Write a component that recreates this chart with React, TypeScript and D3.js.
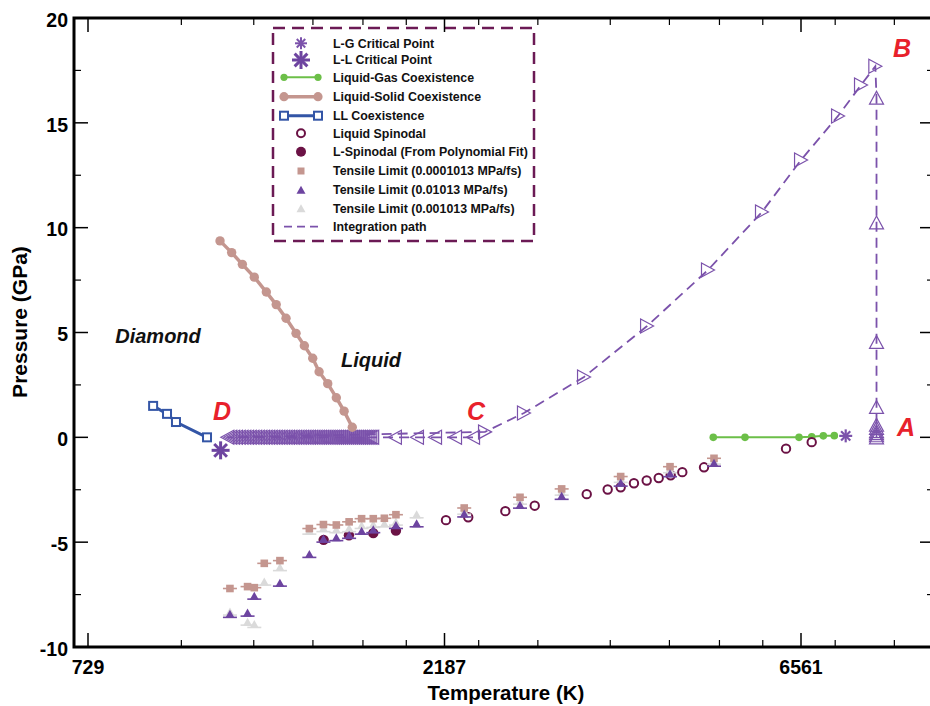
import React from 'react';
import * as d3 from 'd3';

// ---- data (temperature in K, pressure in GPa) ----
const lgT = [5007, 5521, 6521, 6781, 7028, 7270];
const lgP = [0, 0, 0, 0.03, 0.07, 0.08];
const lgCritical = { T: 7530, P: 0.07 };

const llT = [891, 930, 956, 1052];
const llP = [1.5, 1.12, 0.73, 0];
const llCritical = { T: 1097, P: -0.62 };

const lsT = [1095, 1135, 1173, 1217, 1263, 1302, 1342, 1384, 1420, 1457, 1486, 1526, 1567, 1605, 1646];
const lsP = [9.37, 8.81, 8.25, 7.64, 6.93, 6.33, 5.68, 4.96, 4.37, 3.77, 3.13, 2.56, 1.89, 1.25, 0.48];

const spinT = [2197, 2353, 2638, 2888, 3390, 3616, 3764, 3921, 4078, 4232, 4391, 4551, 4866, 6265, 6781];
const spinP = [-3.95, -3.81, -3.52, -3.26, -2.71, -2.49, -2.38, -2.19, -2.06, -1.94, -1.81, -1.66, -1.43, -0.54, -0.23];

const spinFitT = [1507, 1629, 1756, 1883];
const spinFitP = [-4.89, -4.67, -4.57, -4.45];

const tensileSlowT = [1129, 1192, 1217, 1255, 1317, 1442, 1506, 1567, 1630, 1694, 1756, 1817, 1883, 2324, 2760, 3138, 3764, 4382, 5018];
const tensileSlowP = [-7.21, -7.12, -7.17, -6.01, -5.88, -4.35, -4.16, -4.18, -4.03, -3.88, -3.88, -3.86, -3.69, -3.37, -2.86, -2.46, -1.87, -1.4, -1.0];

const tensileFastT = [1129, 1192, 1217, 1317, 1442, 1506, 1567, 1630, 1694, 1756, 1883, 2007, 2324, 2760, 3138, 3764, 4382, 5018];
const tensileFastP = [-8.42, -8.36, -7.55, -6.93, -5.56, -4.83, -4.76, -4.65, -4.45, -4.38, -4.18, -4.1, -3.63, -3.21, -2.79, -2.16, -1.71, -1.21];

const tensileMidT = [1129, 1192, 1217, 1255, 1317, 1442, 1506, 1567, 1630, 1694, 1756, 1817, 1883, 2007, 2324, 2760, 3138, 3764, 4382, 5018];
const tensileMidP = [-8.31, -8.79, -8.9, -6.88, -6.19, -4.45, -4.33, -4.38, -4.33, -4.18, -4.13, -4.1, -4.02, -3.67, -3.5, -3.02, -2.59, -1.98, -1.52, -1.11];

// integration path: isobar C -> D (left-pointing markers)
const isobarT = [
  1120, 1130, 1140, 1150, 1160, 1170, 1180, 1190, 1200, 1210, 1220, 1230, 1240, 1250, 1260, 1270,
  1280, 1290, 1300, 1310, 1320, 1330, 1340, 1350, 1360, 1370, 1380, 1390, 1400, 1410, 1420, 1430,
  1440, 1450, 1460, 1470, 1480, 1490, 1500, 1510, 1520, 1530, 1540, 1550, 1560, 1570, 1580, 1590,
  1600, 1610, 1620, 1630, 1640, 1650, 1660, 1670, 1680, 1690, 1700, 1710, 1720, 1730, 1740, 1750,
  1877, 2009, 2124, 2259, 2388,
];
const isobarP = isobarT.map(() => 0);
// B -> C leg (right-pointing markers)
const diagT = [2478, 2794, 3362, 4083, 4926, 5818, 6562, 7355, 7894, 8250];
const diagP = [0.26, 1.16, 2.88, 5.31, 7.98, 10.75, 13.23, 15.33, 16.8, 17.7];
// A -> B isotherm (up-pointing markers)
const isothermT = 8280;
const isothermP = [16.2, 10.25, 4.55, 1.45, 0.6, 0.45, 0.3, 0.2, 0.1, 0];

const xMajor = [729, 2187, 6561];
const xMinor = [972, 1215, 1458, 1701, 1944, 2430, 2916, 3645, 4374, 5103, 5832, 7290, 8748];
const yMajor = [-10, -5, 0, 5, 10, 15, 20];
const yMinor = [-7.5, -2.5, 2.5, 7.5, 12.5, 17.5];

// ---- styling ----
const PURPLE = '#7b52ab';
const PURPLE_DARK = '#6d44a0';
const PINK = '#c4968f';
const GRAY = '#dadada';
const MAROON = '#6b1245';
const GREEN = '#6cbf48';
const BLUE = '#3355a6';
const RED = '#e8212b';
const FONT = '"Liberation Sans", Arial, Helvetica, sans-serif';

const W = 930;
const H = 706;
const left = 74;
const right = 934;
const top = 18;
const bottom = 647;

const x = d3.scaleLog().domain([729, 6561]).range([88, 801]);
const y = d3.scaleLinear().domain([-10, 20]).range([647, 18]);

const zip = (ts: number[], ps: number[]) => ts.map((t, i) => [t, ps[i]] as [number, number]);
const line = d3
  .line<[number, number]>()
  .x((d) => x(d[0]))
  .y((d) => y(d[1]));

function Asterisk({ cx, cy, r, sw, color }: { cx: number; cy: number; r: number; sw: number; color: string }) {
  return (
    <g stroke={color} strokeWidth={sw} strokeLinecap="butt">
      {[0, 45, 90, 135].map((a) => {
        const rad = (a * Math.PI) / 180;
        const dx = Math.cos(rad) * r;
        const dy = Math.sin(rad) * r;
        return <line key={a} x1={cx - dx} y1={cy - dy} x2={cx + dx} y2={cy + dy} />;
      })}
    </g>
  );
}

function tri(cx: number, cy: number, dir: 'left' | 'right' | 'up', w: number, h: number) {
  if (dir === 'left') return `M${cx - w / 2},${cy}L${cx + w / 2},${cy - h / 2}L${cx + w / 2},${cy + h / 2}Z`;
  if (dir === 'right') return `M${cx + w / 2},${cy}L${cx - w / 2},${cy - h / 2}L${cx - w / 2},${cy + h / 2}Z`;
  return `M${cx},${cy - h / 2}L${cx - w / 2},${cy + h / 2}L${cx + w / 2},${cy + h / 2}Z`;
}

function TensileTri({ cx, cy, color }: { cx: number; cy: number; color: string }) {
  return (
    <g>
      <line x1={cx - 7} x2={cx + 7} y1={cy + 3.5} y2={cy + 3.5} stroke={color} strokeWidth={1.6} />
      <path d={tri(cx, cy, 'up', 9, 8)} fill={color} />
    </g>
  );
}

function TensileSq({ cx, cy, color }: { cx: number; cy: number; color: string }) {
  return (
    <g>
      <line x1={cx - 7} x2={cx + 7} y1={cy} y2={cy} stroke={color} strokeWidth={1.6} />
      <rect x={cx - 3.8} y={cy - 3.8} width={7.6} height={7.6} fill={color} />
    </g>
  );
}

function OpenSquare({ cx, cy }: { cx: number; cy: number }) {
  return <rect x={cx - 4} y={cy - 4} width={8} height={8} fill="white" stroke={BLUE} strokeWidth={2} />;
}

const legendRows = [
  'L-G Critical Point',
  'L-L Critical Point',
  'Liquid-Gas Coexistence',
  'Liquid-Solid Coexistence',
  'LL Coexistence',
  'Liquid Spinodal',
  'L-Spinodal (From Polynomial Fit)',
  'Tensile Limit (0.0001013 MPa/fs)',
  'Tensile Limit (0.01013 MPa/fs)',
  'Tensile Limit (0.001013 MPa/fs)',
  'Integration path',
];
const legendY = [43.3, 60, 77.3, 96.7, 115.7, 133.3, 151.7, 171, 189.7, 208.3, 226.7];

function Legend() {
  const sx = 301;
  const l0 = 284;
  const l1 = 318;
  const sym = (i: number, cy: number) => {
    switch (i) {
      case 0:
        return <Asterisk cx={sx} cy={cy} r={6} sw={2} color={PURPLE} />;
      case 1:
        return <Asterisk cx={sx} cy={cy} r={9} sw={3} color={PURPLE_DARK} />;
      case 2:
        return (
          <g>
            <line x1={l0} x2={l1} y1={cy} y2={cy} stroke={GREEN} strokeWidth={2} />
            <circle cx={l0} cy={cy} r={3.6} fill={GREEN} />
            <circle cx={l1} cy={cy} r={3.6} fill={GREEN} />
          </g>
        );
      case 3:
        return (
          <g>
            <line x1={l0} x2={l1} y1={cy} y2={cy} stroke={PINK} strokeWidth={3.5} />
            <circle cx={l0} cy={cy} r={4.6} fill={PINK} />
            <circle cx={l1} cy={cy} r={4.6} fill={PINK} />
          </g>
        );
      case 4:
        return (
          <g>
            <line x1={l0} x2={l1} y1={cy} y2={cy} stroke={BLUE} strokeWidth={3} />
            <OpenSquare cx={l0} cy={cy} />
            <OpenSquare cx={l1} cy={cy} />
          </g>
        );
      case 5:
        return <circle cx={sx} cy={cy} r={4} fill="white" stroke={MAROON} strokeWidth={2} />;
      case 6:
        return <circle cx={sx} cy={cy} r={5} fill={MAROON} />;
      case 7:
        return <rect x={sx - 3.5} y={cy - 3.5} width={7} height={7} fill={PINK} />;
      case 8:
        return <path d={tri(sx, cy, 'up', 9, 8)} fill={PURPLE_DARK} />;
      case 9:
        return <path d={tri(sx, cy, 'up', 9, 8)} fill={GRAY} />;
      default:
        return <line x1={l0} x2={l1} y1={cy} y2={cy} stroke={PURPLE} strokeWidth={1.8} strokeDasharray="8,5" />;
    }
  };
  return (
    <g>
      <rect x={273} y={28} width={261} height={213} fill="white" stroke="#6b1a55" strokeWidth={2.5} strokeDasharray="12,7" />
      {legendRows.map((label, i) => (
        <g key={label}>
          {sym(i, legendY[i])}
          <text x={333} y={legendY[i]} dy="0.35em" fontFamily={FONT} fontWeight="bold" fontSize={12.4} fill="#111">
            {label}
          </text>
        </g>
      ))}
    </g>
  );
}

export default function App() {
  const lsPts = zip(lsT, lsP);
  const lgPts = zip(lgT, lgP);
  const llPts = zip(llT, llP);
  const isobar = zip(isobarT, isobarP);
  const diag = zip(diagT, diagP);
  const isotherm = isothermP.map((p) => [isothermT, p] as [number, number]);
  const pathPts = [...isobar].reverse().concat(diag, isotherm);

  return (
    <svg width={W} height={H} style={{ position: 'absolute', left: 0, top: 0, background: 'white' }}>
      <rect width={W} height={H} fill="white" />

      {/* integration path */}
      <path d={line(pathPts) ?? ''} fill="none" stroke={PURPLE} strokeWidth={1.8} strokeDasharray="10,6" />
      {isobar.map(([t, p], i) => (
        <path key={`ib${i}`} d={tri(x(t), y(p), 'left', 13, 14)} fill="none" stroke={PURPLE} strokeWidth={1.2} />
      ))}
      {diag.map(([t, p], i) => (
        <path key={`dg${i}`} d={tri(x(t), y(p), 'right', 13, 14)} fill="none" stroke={PURPLE} strokeWidth={1.2} />
      ))}
      {isotherm.map(([t, p], i) => (
        <path key={`it${i}`} d={tri(x(t), y(p), 'up', 14, 13)} fill="none" stroke={PURPLE} strokeWidth={1.2} />
      ))}

      {/* liquid-solid coexistence */}
      <path d={line(lsPts) ?? ''} fill="none" stroke={PINK} strokeWidth={3.5} />
      {lsPts.map(([t, p], i) => (
        <circle key={`ls${i}`} cx={x(t)} cy={y(p)} r={4.7} fill={PINK} />
      ))}

      {/* liquid-gas coexistence */}
      <path d={line(lgPts) ?? ''} fill="none" stroke={GREEN} strokeWidth={2} />
      {lgPts.map(([t, p], i) => (
        <circle key={`lg${i}`} cx={x(t)} cy={y(p)} r={3.8} fill={GREEN} />
      ))}
      <Asterisk cx={x(lgCritical.T)} cy={y(lgCritical.P)} r={6.5} sw={2.2} color={PURPLE} />

      {/* liquid-liquid coexistence */}
      <path d={line(llPts) ?? ''} fill="none" stroke={BLUE} strokeWidth={3} />
      {llPts.map(([t, p], i) => (
        <OpenSquare key={`ll${i}`} cx={x(t)} cy={y(p)} />
      ))}
      <Asterisk cx={x(llCritical.T)} cy={y(llCritical.P)} r={9} sw={3} color={PURPLE_DARK} />

      {/* spinodals */}
      {zip(spinT, spinP).map(([t, p], i) => (
        <circle key={`sp${i}`} cx={x(t)} cy={y(p)} r={4.2} fill="white" stroke={MAROON} strokeWidth={2} />
      ))}
      {zip(spinFitT, spinFitP).map(([t, p], i) => (
        <circle key={`sf${i}`} cx={x(t)} cy={y(p)} r={5.2} fill={MAROON} />
      ))}

      {/* tensile limits */}
      {zip(tensileMidT, tensileMidP).map(([t, p], i) => (
        <TensileTri key={`tm${i}`} cx={x(t)} cy={y(p)} color={GRAY} />
      ))}
      {zip(tensileSlowT, tensileSlowP).map(([t, p], i) => (
        <TensileSq key={`ts${i}`} cx={x(t)} cy={y(p)} color={PINK} />
      ))}
      {zip(tensileFastT, tensileFastP).map(([t, p], i) => (
        <TensileTri key={`tf${i}`} cx={x(t)} cy={y(p)} color={PURPLE_DARK} />
      ))}

      {/* region labels */}
      <g fontFamily={FONT} fontWeight="bold" fontStyle="italic">
        <text x={158} y={336} dy="0.35em" textAnchor="middle" fontSize={20} fill="#111">Diamond</text>
        <text x={371} y={360} dy="0.35em" textAnchor="middle" fontSize={20} fill="#111">Liquid</text>
        <text x={222} y={411} dy="0.35em" textAnchor="middle" fontSize={25} fill={RED}>D</text>
        <text x={476} y={411} dy="0.35em" textAnchor="middle" fontSize={25} fill={RED}>C</text>
        <text x={902} y={48} dy="0.35em" textAnchor="middle" fontSize={25} fill={RED}>B</text>
        <text x={906} y={427} dy="0.35em" textAnchor="middle" fontSize={25} fill={RED}>A</text>
      </g>

      <Legend />

      {/* axes frame and ticks */}
      <g stroke="black">
        {xMajor.map((t) => (
          <g key={`xM${t}`} strokeWidth={1.5}>
            <line x1={x(t)} x2={x(t)} y1={bottom} y2={bottom - 14} />
            <line x1={x(t)} x2={x(t)} y1={top} y2={top + 14} />
          </g>
        ))}
        {xMinor.map((t) => (
          <g key={`xm${t}`} strokeWidth={1.2}>
            <line x1={x(t)} x2={x(t)} y1={bottom} y2={bottom - 7} />
            <line x1={x(t)} x2={x(t)} y1={top} y2={top + 7} />
          </g>
        ))}
        {yMajor.map((p) => (
          <g key={`yM${p}`} strokeWidth={1.5}>
            <line x1={left} x2={left + 14} y1={y(p)} y2={y(p)} />
            <line x1={right} x2={right - 14} y1={y(p)} y2={y(p)} />
          </g>
        ))}
        {yMinor.map((p) => (
          <g key={`ym${p}`} strokeWidth={1.2}>
            <line x1={left} x2={left + 7} y1={y(p)} y2={y(p)} />
            <line x1={right} x2={right - 7} y1={y(p)} y2={y(p)} />
          </g>
        ))}
        <rect x={left} y={top} width={right - left} height={bottom - top} fill="none" strokeWidth={3} />
      </g>

      <g fontFamily={FONT} fontWeight="bold" fontSize={19.5} fill="black">
        {yMajor.map((p) => (
          <text key={`yl${p}`} x={68} y={y(p) + 2} dy="0.35em" textAnchor="end">
            {p}
          </text>
        ))}
        {xMajor.map((t) => (
          <text key={`xl${t}`} x={x(t)} y={667} dy="0.35em" textAnchor="middle">
            {t}
          </text>
        ))}
        <text x={506} y={693} dy="0.35em" textAnchor="middle" fontSize={20.5}>Temperature (K)</text>
        <text transform="translate(20,322) rotate(-90)" dy="0.35em" textAnchor="middle" fontSize={21}>Pressure (GPa)</text>
      </g>
    </svg>
  );
}
